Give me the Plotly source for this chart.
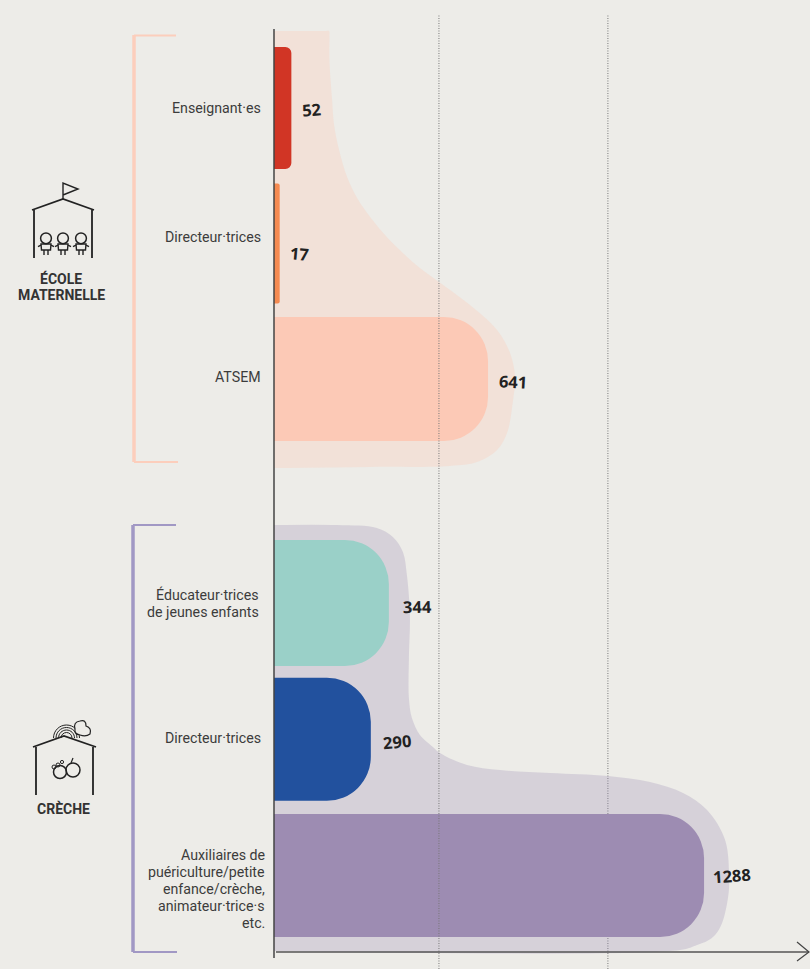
import plotly.graph_objects as go

# ---------- data ----------
top_roles = ["Enseignant·es", "Directeur·trices", "ATSEM"]
top_values = [52, 17, 641]
bottom_roles = ["Éducateur·trices<br>de jeunes enfants", "Directeur·trices",
                "Auxiliaires de<br>puériculture/petite<br>enfance/crèche,<br>animateur·trice·s<br>etc."]
bottom_values = [344, 290, 1288]
grid_values = [494, 1000]

# envelope outlines (value, row)
top_env_v = [0, 150, 165, 166, 166, 174, 180, 195, 219, 249, 288, 338, 386, 437, 494, 587, 668, 707, 722, 716, 698, 668, 608, 527, 288, 0]
top_env_r = [-.568, -.568, -.568, -.53, -.354, -.059, .125, .31, .509, .664, .804, .952, 1.07, 1.181, 1.284, 1.454, 1.638, 1.808, 1.985,
             2.155, 2.399, 2.524, 2.613, 2.642, 2.649, 2.657]
bot_env_v = [0, 189, 308, 356, 386, 398, 407, 404, 404, 413, 437, 458, 476, 497, 578, 677, 827, 1000, 1126, 1225,
             1297, 1351, 1363, 1360, 1342, 1321, 1297, 1267, 1216, 0]
bot_env_r = [-.572, -.572, -.55, -.484, -.374, -.205, .088, .404, .697, .844, .969, 1.02, 1.057, 1.101, 1.189, 1.226,
             1.248, 1.27, 1.314, 1.394, 1.519, 1.739, 2.033, 2.158, 2.349, 2.437, 2.481, 2.51, 2.547, 2.554]

# ---------- style ----------
W, H = 810, 969
BG = "#edece8"
PX_PER_UNIT = 0.3339
ORIGIN = 274
top_colors = ["#d13525", "#f58a50", "#fcc9b6"]
bottom_colors = ["#9ad0c8", "#22519e", "#9d8cb2"]
top_widths = [.90, .886, .915]
bottom_widths = [.925, .903, .903]
top_radii = [6, 2, 44]
bottom_radii = [44, 44, 44]
top_label_y = [0, 7, 2]
bottom_label_y = [0, 1, -13]
bottom_label_x = [-13, -11, -7]
line_steps = [17, 16, 17]
top_num = [(20, -1, -5), (20, -9.5, 5), (24.5, -2, 3)]
bottom_num = [(29, -3, -1), (26.5, -2.5, -5), (28, 0, -4)]

x_range = [-ORIGIN / PX_PER_UNIT, (W - ORIGIN) / PX_PER_UNIT]
Y0T, STEPT = 108, 135.5
Y0B, STEPB = 603, 136.25

fig = go.Figure()
# envelopes live on the base axes so that the bars, on overlaying axes, are drawn over them
fig.add_trace(go.Scatter(x=top_env_v, y=top_env_r, mode="lines", fill="toself", hoverinfo="skip",
                         fillcolor="rgba(251,203,184,.32)", line=dict(width=0, shape="spline", smoothing=1),
                         xaxis="x", yaxis="y", showlegend=False))
fig.add_trace(go.Scatter(x=bot_env_v, y=bot_env_r, mode="lines", fill="toself", hoverinfo="skip",
                         fillcolor="rgba(155,140,178,.28)", line=dict(width=0, shape="spline", smoothing=1),
                         xaxis="x", yaxis="y2", showlegend=False))

for i, v in enumerate(top_values):
    fig.add_trace(go.Bar(x=[v], y=[i], orientation="h", width=top_widths[i], yaxis="y3", opacity=1,
                         marker=dict(color=top_colors[i], opacity=1, cornerradius=top_radii[i], line_width=0), showlegend=False))
for i, v in enumerate(bottom_values):
    fig.add_trace(go.Bar(x=[v], y=[i], orientation="h", width=bottom_widths[i], yaxis="y4", opacity=1,
                         marker=dict(color=bottom_colors[i], opacity=1, cornerradius=bottom_radii[i], line_width=0), showlegend=False))

ann = []
LABEL = dict(family="Roboto", size=14.2, color="#3c3c3c")
NUM = dict(family="Noto Sans", size=16.5, color="#222")


def role_label(text, row, yref, xshift, yshift, step):
    parts = text.split("<br>")
    mid = (len(parts) - 1) / 2
    for n, part in enumerate(parts):
        ann.append(dict(x=0, y=row, xref="x", yref=yref, text=part, showarrow=False, xanchor="right",
                        xshift=xshift, yshift=yshift - (n - mid) * step, font=LABEL))


for i, t in enumerate(top_roles):
    role_label(t, i, "y", -11, top_label_y[i], 17)
    dx, dy, a = top_num[i]
    ann.append(dict(x=top_values[i], y=i, xref="x", yref="y", text=f"<b>{top_values[i]}</b>", showarrow=False,
                    xshift=dx, yshift=dy, textangle=a, font=NUM))
for i, t in enumerate(bottom_roles):
    role_label(t, i, "y2", bottom_label_x[i], bottom_label_y[i], line_steps[i])
    dx, dy, a = bottom_num[i]
    ann.append(dict(x=bottom_values[i], y=i, xref="x", yref="y2", text=f"<b>{bottom_values[i]}</b>", showarrow=False,
                    xshift=dx, yshift=dy, textangle=a, font=NUM))

HEAD = dict(family="Roboto", size=14, color="#333")
for txt, cx, cy in (("ÉCOLE", 61, 278.5), ("MATERNELLE", 61, 295.5), ("CRÈCHE", 63, 808.5)):
    ann.append(dict(x=cx / W, y=1 - cy / H, xref="paper", yref="paper", text=f"<b>{txt}</b>",
                    xanchor="center", yanchor="middle", showarrow=False, font=HEAD))


def X(x):
    return x / W


def Y(y):
    return 1 - y / H


shapes = []


def poly(pts, color="#222", width=1.5, close=False, layer="above"):
    d = "M" + " L".join(f"{X(a):.5f},{Y(b):.5f}" for a, b in pts) + (" Z" if close else "")
    shapes.append(dict(type="path", path=d, xref="paper", yref="paper", layer=layer,
                       line=dict(color=color, width=width)))


def circ(cx, cy, r, color="#222", width=1.5):
    shapes.append(dict(type="circle", xref="paper", yref="paper", x0=X(cx - r), x1=X(cx + r),
                       y0=Y(cy - r), y1=Y(cy + r), line=dict(color=color, width=width)))


def arc_top(cx, cy, r, color="#222", width=1):
    k = .5523 * r
    d = (f"M{X(cx - r):.5f},{Y(cy):.5f} "
         f"C{X(cx - r):.5f},{Y(cy - k):.5f} {X(cx - k):.5f},{Y(cy - r):.5f} {X(cx):.5f},{Y(cy - r):.5f} "
         f"C{X(cx + k):.5f},{Y(cy - r):.5f} {X(cx + r):.5f},{Y(cy - k):.5f} {X(cx + r):.5f},{Y(cy):.5f}")
    shapes.append(dict(type="path", path=d, xref="paper", yref="paper", line=dict(color=color, width=width)))


# grid
shapes.append(dict(type="line", xref="x", yref="paper", x0=grid_values[0], x1=grid_values[0], y0=0, y1=Y(14),
                   layer="above", line=dict(color="#777", width=1, dash="1px,1.5px")))
shapes.append(dict(type="line", xref="x", yref="paper", x0=grid_values[1], x1=grid_values[1], y0=0, y1=Y(14),
                   layer="below", line=dict(color="#777", width=1, dash="1px,1.5px")))

# brackets
C1, C2 = "#fcceBc", "#a198c4"
poly([(134, 35), (134, 462)], C1, 3.5)
poly([(134, 35.5), (176, 35.5)], C1, 2)
poly([(134, 462), (178, 462)], C1, 2)
poly([(133, 525), (133, 952)], C2, 3.5)
poly([(133, 525), (176, 525)], C2, 2)
poly([(133, 952), (177, 952)], C2, 2)

# axes
poly([(274, 29), (274, 958)], "#444", 1.5)
poly([(276, 952), (809, 952)], "#555", 1.5)
poly([(797, 942), (809, 952), (797, 961)], "#444", 1.2)

# school icon
poly([(32, 210), (63, 199), (94, 210)], width=1.8)
poly([(34, 210), (34, 258)], width=1.8)
poly([(92, 210), (92, 258)], width=1.8)
poly([(63, 199), (63, 183), (78, 189), (63, 195)], width=1.4)
for cx in (46, 63, 81):
    circ(cx, 238.3, 5.4, width=1.5)
    poly([(cx - 5, 244), (cx + 5, 244), (cx + 4.5, 250), (cx - 4.5, 250)], width=1.4, close=True)
    poly([(cx - 2, 250), (cx - 2, 255)], width=1.4)
    poly([(cx + 2, 250), (cx + 2, 255)], width=1.4)
    poly([(cx - 8, 246.5), (cx - 5, 245)], width=1.4)
    poly([(cx + 8, 246.5), (cx + 5, 245)], width=1.4)

# crèche icon
for r in (13, 10.5, 8, 5.5):
    arc_top(66.5, 738, r)
cloud = [(75, 729), (73, 722), (80, 721), (86, 719), (86, 726), (92, 728), (90, 734), (86, 737), (80, 735), (74, 734), (75, 729)]
d = f"M{X(cloud[0][0]):.5f},{Y(cloud[0][1]):.5f}"
for i in range(1, len(cloud) - 1, 2):
    d += f" Q{X(cloud[i][0]):.5f},{Y(cloud[i][1]):.5f} {X(cloud[i + 1][0]):.5f},{Y(cloud[i + 1][1]):.5f}"
shapes.append(dict(type="path", path=d + " Z", xref="paper", yref="paper", fillcolor=BG, line=dict(color="#222", width=1.2)))
poly([(33, 747), (64, 736), (96, 747)], width=1.8)
poly([(36, 747), (36, 795)], width=1.8)
poly([(93, 747), (93, 795)], width=1.8)
circ(60, 772, 6.5, width=1.5)
circ(73, 770, 7, width=1.5)
poly([(71, 763), (73, 758)], width=1.2)
circ(54, 767, 2, width=1)
circ(58, 765, 2, width=1)
circ(62, 762, 1.6, width=1)

range_top = [(H - Y0T) / STEPT, -Y0T / STEPT]
range_bot = [(H - Y0B) / STEPB, -Y0B / STEPB]
fig.update_layout(
    width=W, height=H, margin=dict(l=0, r=0, t=0, b=0), autosize=False,
    paper_bgcolor=BG, plot_bgcolor=BG, barmode="overlay", showlegend=False,
    shapes=shapes, annotations=ann, font=dict(family="Roboto"),
    xaxis=dict(range=x_range, visible=False, domain=[0, 1], fixedrange=True),
    yaxis=dict(range=range_top, visible=False, domain=[0, 1], fixedrange=True),
    yaxis2=dict(range=range_bot, visible=False, domain=[0, 1], overlaying="y", fixedrange=True),
    yaxis3=dict(range=range_top, visible=False, domain=[0, 1], overlaying="y", fixedrange=True),
    yaxis4=dict(range=range_bot, visible=False, domain=[0, 1], overlaying="y", fixedrange=True),
)
fig.write_html("out.html", config=dict(displayModeBar=False),
               post_script="document.body.style.margin='0';document.body.style.background='#edece8';")
